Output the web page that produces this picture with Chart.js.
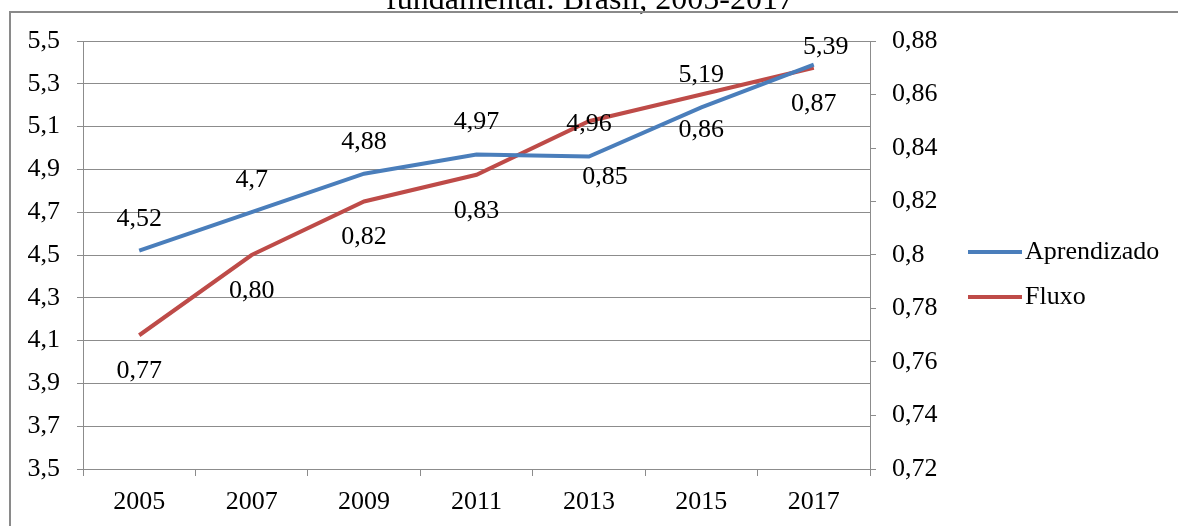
<!DOCTYPE html>
<html>
<head>
<meta charset="utf-8">
<script src="https://cdn.jsdelivr.net/npm/chart.js@4.4.1/dist/chart.umd.min.js"></script>
<style>
body{margin:0;background:#fff}
#wrap{position:relative;width:1178px;height:526px;overflow:hidden}
#wrap canvas{position:absolute;left:0;top:0}
#frame{position:absolute;left:9px;top:11px;right:-5px;bottom:-5px;border-top:2px solid #8a8a8a;border-left:2px solid #8a8a8a;pointer-events:none}
</style>
</head>
<body>
<div id="wrap">
  <canvas id="grafico" width="1178" height="526"></canvas>
  <div id="frame"></div>
</div>
<script>
var anos = ['2005','2007','2009','2011','2013','2015','2017'];
var aprendizado = [4.52, 4.7, 4.88, 4.97, 4.96, 5.19, 5.39];
var fluxo = [0.77, 0.80, 0.82, 0.83, 0.85, 0.86, 0.87];
var ticksEsq = [3.5, 3.7, 3.9, 4.1, 4.3, 4.5, 4.7, 4.9, 5.1, 5.3, 5.5];
var ticksDir = [0.72, 0.74, 0.76, 0.78, 0.8, 0.82, 0.84, 0.86, 0.88];
var titulo = 'fundamental: Brasil, 2005-2017';

var fonte = "'Liberation Serif', 'Times New Roman', serif";
var cinza = '#8c8c8c';
var virgula = function(v){ return String(v).replace('.', ','); };

// posicao dos rotulos: [dx, dy] a partir do ponto
var ajustes = [
  {6: [12, -17]},
  {4: [16, 56]}
];

var rotulos = {
  id: 'rotulos',
  afterDatasetsDraw: function(chart){
    var ctx = chart.ctx;
    ctx.save();
    ctx.font = '26px ' + fonte;
    ctx.fillStyle = '#000';
    ctx.textAlign = 'center';
    ctx.textBaseline = 'middle';
    chart.data.datasets.forEach(function(ds, i){
      chart.getDatasetMeta(i).data.forEach(function(pt, j){
        var a = ajustes[i][j] || [0, i == 0 ? -32 : 36];
        var txt = i == 0 ? virgula(ds.data[j]) : ds.data[j].toFixed(2).replace('.', ',');
        ctx.fillText(txt, pt.x + a[0], pt.y + a[1]);
      });
    });
    ctx.restore();
  }
};

var legendaETitulo = {
  id: 'legendaETitulo',
  afterDraw: function(chart){
    var ctx = chart.ctx;
    ctx.save();
    ctx.font = '32px ' + fonte;
    ctx.fillStyle = '#000';
    ctx.textAlign = 'center';
    ctx.textBaseline = 'alphabetic';
    ctx.fillText(titulo, 590, 9);
    ctx.font = '26px ' + fonte;
    ctx.textAlign = 'left';
    ctx.textBaseline = 'middle';
    chart.data.datasets.forEach(function(ds, i){
      var y = 252 + i * 45;
      ctx.strokeStyle = ds.borderColor;
      ctx.lineWidth = 4;
      ctx.beginPath();
      ctx.moveTo(968, y);
      ctx.lineTo(1022, y);
      ctx.stroke();
      ctx.fillText(ds.label, 1025, y);
    });
    ctx.restore();
  }
};

Chart.defaults.font.family = fonte;
Chart.defaults.font.size = 26;
Chart.defaults.color = '#000';

new Chart(document.getElementById('grafico').getContext('2d'), {
  type: 'line',
  data: {
    labels: anos,
    datasets: [
      {label: 'Aprendizado', data: aprendizado, yAxisID: 'y', borderColor: '#4A7EBB', borderWidth: 4, pointRadius: 0, tension: 0},
      {label: 'Fluxo', data: fluxo, yAxisID: 'y1', borderColor: '#BE4B48', borderWidth: 4, pointRadius: 0, tension: 0}
    ]
  },
  options: {
    responsive: false,
    animation: false,
    layout: {padding: {top: 41, left: 0, right: 0, bottom: 0}},
    plugins: {legend: {display: false}, tooltip: {enabled: false}},
    scales: {
      x: {
        offset: true,
        grid: {offset: true, drawOnChartArea: false, tickLength: 7, color: cinza},
        border: {color: cinza},
        ticks: {padding: 11, maxRotation: 0, autoSkip: false},
        afterFit: function(s){ s.height = 57; }
      },
      y: {
        position: 'left',
        min: 3.5, max: 5.5,
        afterBuildTicks: function(s){ s.ticks = ticksEsq.map(function(v){ return {value: v}; }); },
        grid: {color: cinza, tickLength: 6},
        border: {color: cinza},
        ticks: {padding: 17, callback: function(v){ return virgula(Math.round(v * 10) / 10); }},
        afterFit: function(s){ s.width = 83; }
      },
      y1: {
        position: 'right',
        min: 0.72, max: 0.88,
        afterBuildTicks: function(s){ s.ticks = ticksDir.map(function(v){ return {value: v}; }); },
        grid: {drawOnChartArea: false, color: cinza, tickLength: 6},
        border: {color: cinza},
        ticks: {padding: 16, callback: function(v){ return virgula(Math.round(v * 100) / 100); }},
        afterFit: function(s){ s.width = 308; }
      }
    }
  },
  plugins: [rotulos, legendaETitulo]
});
</script>
</body>
</html>
